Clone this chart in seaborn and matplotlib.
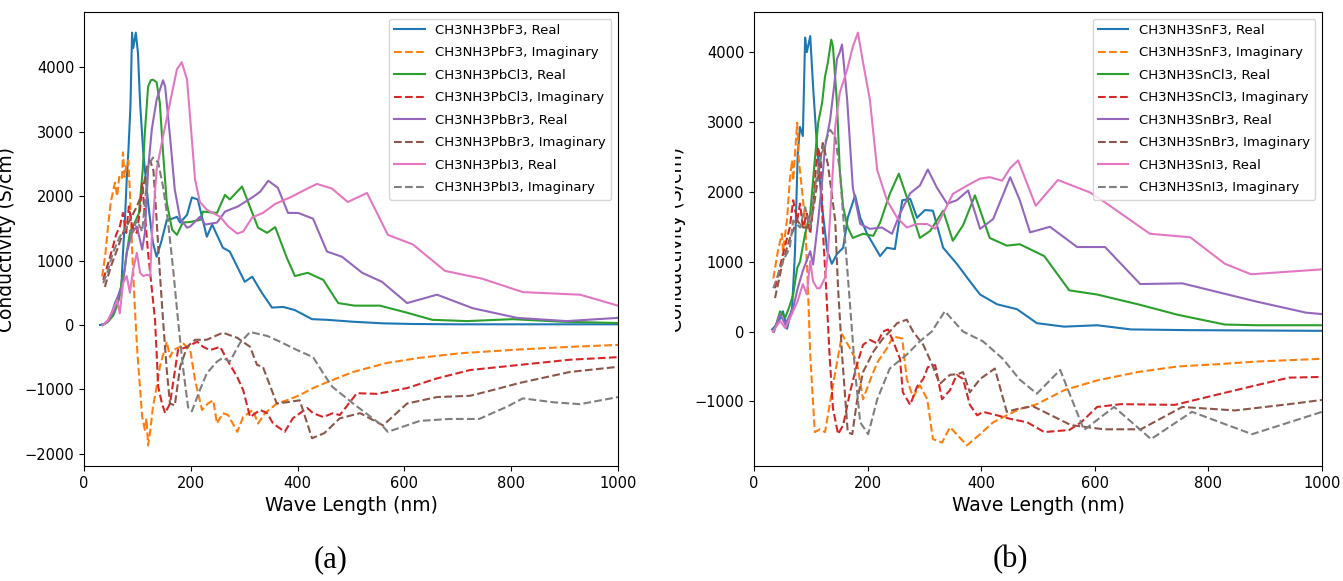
import matplotlib
matplotlib.use("Agg")
import matplotlib.pyplot as plt
from matplotlib.transforms import Bbox, TransformedBbox
import seaborn as sns

# ---------------- (a) CH3NH3PbX3 ----------------
pbf3_re_wl = [30, 40, 49, 58, 64, 70, 73, 77, 80, 83, 87, 90, 92, 94, 97, 101, 105, 111, 120, 129, 136, 145, 155, 165, 174, 180, 193, 202, 213, 230, 240, 260, 273, 301, 315, 333, 352, 373, 395, 427, 455, 504, 560, 616, 700, 800, 900, 1000]
pbf3_re = [0, 20, 100, 340, 450, 600, 1120, 1700, 2260, 2680, 3400, 4540, 4300, 4390, 4540, 4230, 3450, 2680, 1900, 1280, 1060, 1300, 1630, 1650, 1680, 1590, 1710, 1980, 1950, 1370, 1560, 1200, 1140, 670, 750, 500, 270, 280, 230, 90, 80, 50, 25, 15, 10, 10, 10, 10]

pbf3_im_wl = [34, 40, 45, 50, 55, 58, 62, 66, 71, 73, 76, 79, 83, 86, 90, 95, 100, 109, 114, 117, 120, 124, 129, 136, 142, 155, 161, 167, 180, 185, 199, 208, 221, 232, 242, 249, 260, 270, 287, 298, 316, 326, 339, 361, 380, 404, 429, 455, 479, 504, 567, 629, 704, 816, 910, 1000]
pbf3_im = [750, 1100, 1530, 1900, 2100, 2210, 2000, 2300, 2260, 2680, 2300, 2460, 2560, 2050, 1200, 300, -440, -1430, -1630, -1450, -1870, -1650, -1280, -960, -650, -260, -500, -390, -340, -280, -390, -860, -1320, -1220, -1170, -1530, -1370, -1400, -1660, -1430, -1320, -1530, -1370, -1220, -1170, -1090, -980, -890, -810, -730, -590, -510, -440, -380, -340, -310]

pbcl3_re_wl = [35, 45, 55, 62, 67, 71, 76, 80, 86, 95, 103, 110, 114, 120, 125, 129, 136, 142, 148, 155, 165, 174, 185, 199, 217, 223, 249, 264, 273, 296, 326, 343, 358, 380, 395, 419, 448, 476, 507, 554, 605, 652, 717, 803, 897, 1000]
pbcl3_re = [0, 50, 150, 300, 450, 700, 850, 1120, 1430, 1590, 1740, 2410, 2990, 3700, 3800, 3810, 3770, 3450, 2680, 1900, 1480, 1400, 1590, 1600, 1630, 1760, 1740, 2020, 1950, 2150, 1510, 1430, 1520, 1040, 760, 810, 700, 340, 300, 300, 190, 80, 60, 90, 50, 30]

pbcl3_im_wl = [36, 45, 54, 60, 67, 73, 79, 84, 90, 99, 105, 109, 112, 120, 133, 139, 146, 152, 161, 176, 193, 212, 223, 236, 255, 268, 287, 298, 311, 330, 343, 354, 376, 391, 418, 429, 448, 466, 479, 511, 549, 605, 661, 723, 816, 910, 1000]
pbcl3_im = [700, 950, 1210, 1400, 1530, 1740, 1430, 1840, 1530, 1430, 1800, 2210, 1900, 1120, 80, -960, -1220, -1370, -1220, -390, -340, -260, -340, -390, -340, -540, -810, -1010, -1430, -1320, -1370, -1530, -1660, -1450, -1290, -1370, -1430, -1370, -1400, -1060, -1070, -980, -830, -700, -620, -540, -500]

pbbr3_re_wl = [35, 45, 55, 62, 67, 73, 80, 90, 99, 109, 114, 120, 127, 136, 148, 152, 161, 170, 180, 193, 199, 217, 227, 249, 264, 288, 315, 330, 345, 363, 382, 401, 429, 455, 483, 521, 558, 605, 661, 728, 811, 904, 1000]
pbbr3_re = [0, 60, 200, 400, 500, 650, 1120, 1430, 1530, 1170, 1430, 2410, 3040, 3500, 3800, 3700, 2930, 2100, 1650, 1510, 1530, 1680, 1560, 1590, 1760, 1840, 1980, 2070, 2240, 2130, 1740, 1740, 1650, 1140, 1060, 810, 670, 340, 470, 260, 110, 60, 110]

pbbr3_im_wl = [39, 50, 62, 73, 86, 99, 109, 118, 124, 130, 136, 142, 148, 155, 161, 170, 180, 193, 208, 230, 249, 260, 287, 311, 324, 335, 361, 380, 404, 427, 450, 479, 517, 560, 605, 661, 723, 766, 816, 910, 1000]
pbbr3_im = [590, 900, 1170, 1430, 1630, 1840, 2050, 2460, 2550, 2400, 1630, 810, 80, -700, -1220, -1250, -650, -340, -230, -230, -160, -120, -200, -340, -620, -650, -1220, -1200, -1170, -1760, -1680, -1450, -1370, -1560, -1220, -1120, -1100, -1010, -900, -730, -650]

pbi3_re_wl = [36, 45, 54, 62, 67, 73, 80, 86, 92, 99, 105, 111, 118, 124, 127, 136, 148, 161, 174, 183, 193, 199, 208, 217, 230, 255, 270, 287, 298, 315, 335, 358, 386, 414, 436, 464, 494, 530, 569, 616, 676, 745, 822, 929, 1000]
pbi3_re = [0, 80, 230, 390, 180, 650, 760, 500, 860, 1120, 810, 760, 780, 760, 1370, 2410, 2930, 3450, 3970, 4080, 3810, 3190, 2260, 1910, 1790, 1680, 1530, 1420, 1450, 1670, 1740, 1880, 1980, 2100, 2190, 2120, 1910, 2050, 1400, 1250, 840, 720, 510, 470, 300]

pbi3_im_wl = [36, 45, 54, 67, 80, 90, 99, 109, 114, 120, 129, 139, 148, 157, 167, 176, 186, 195, 202, 217, 230, 249, 260, 273, 292, 311, 343, 367, 399, 429, 448, 465, 504, 558, 569, 629, 685, 740, 792, 822, 878, 929, 1000]
pbi3_im = [650, 850, 1120, 1370, 1530, 1430, 1630, 1450, 1900, 2460, 2600, 2520, 2150, 1630, 860, 80, -700, -1280, -1340, -1010, -750, -570, -510, -570, -280, -110, -170, -260, -390, -500, -750, -960, -1220, -1560, -1660, -1490, -1460, -1460, -1270, -1140, -1200, -1230, -1120]

# ---------------- (b) CH3NH3SnX3 ----------------
snf3_re_wl = [32, 42, 51, 58, 67, 72, 77, 81, 86, 90, 93, 99, 104, 111, 120, 129, 137, 146, 157, 165, 178, 187, 199, 222, 234, 248, 261, 275, 287, 301, 315, 333, 357, 380, 398, 428, 463, 498, 546, 604, 664, 764, 1000]
snf3_re = [30, 120, 290, 40, 330, 1110, 2550, 2930, 2800, 4210, 4000, 4230, 3510, 2640, 1780, 1150, 970, 1110, 1200, 1630, 1950, 1630, 1400, 1080, 1200, 1180, 1880, 1900, 1630, 1740, 1730, 1200, 970, 720, 530, 390, 320, 120, 70, 90, 30, 20, 10]

snf3_im_wl = [34, 42, 49, 51, 58, 63, 67, 69, 76, 79, 84, 90, 95, 99, 107, 116, 125, 139, 155, 169, 181, 192, 208, 218, 234, 245, 261, 269, 280, 292, 305, 315, 331, 345, 359, 375, 398, 421, 445, 468, 498, 546, 604, 676, 746, 812, 884, 942, 1000]
snf3_im = [760, 1150, 1400, 1150, 1590, 2160, 2450, 2160, 2990, 2450, 2060, 1590, 620, -330, -1440, -1400, -1440, -770, -40, -240, -430, -970, -620, -430, -240, -70, -100, -680, -940, -770, -970, -1540, -1590, -1370, -1490, -1630, -1470, -1300, -1200, -1110, -1040, -840, -700, -580, -500, -470, -430, -410, -390]

sncl3_re_wl = [35, 46, 55, 62, 69, 76, 81, 90, 99, 107, 113, 120, 125, 130, 136, 139, 146, 151, 157, 165, 174, 192, 210, 222, 239, 255, 275, 292, 310, 333, 350, 368, 389, 415, 445, 468, 511, 555, 604, 676, 746, 829, 884, 1000]
sncl3_re = [0, 290, 200, 350, 530, 910, 1000, 1400, 1690, 2450, 2990, 3280, 3650, 3850, 4180, 4080, 3280, 2310, 1780, 1490, 1340, 1400, 1370, 1560, 1970, 2260, 1780, 1340, 1440, 1730, 1300, 1520, 1950, 1340, 1230, 1250, 1080, 590, 530, 390, 240, 100, 90, 90]

sncl3_im_wl = [37, 51, 63, 69, 76, 81, 86, 93, 99, 104, 109, 113, 118, 121, 127, 133, 139, 148, 157, 169, 181, 192, 204, 217, 227, 236, 245, 257, 262, 275, 287, 298, 306, 319, 331, 345, 357, 368, 380, 393, 403, 428, 451, 481, 511, 555, 576, 604, 646, 741, 812, 884, 942, 1000]
sncl3_im = [620, 1110, 1490, 1880, 1590, 1830, 1490, 1690, 1400, 1780, 2350, 2640, 2400, 1490, 620, -330, -1100, -1470, -1340, -870, -480, -190, -120, -170, 0, 30, -140, -390, -870, -1050, -790, -680, -510, -480, -970, -840, -620, -680, -1050, -1200, -1150, -1200, -1250, -1300, -1440, -1410, -1300, -1080, -1040, -1050, -910, -770, -660, -650]

snbr3_re_wl = [35, 46, 55, 69, 77, 86, 99, 104, 113, 120, 125, 134, 141, 146, 151, 155, 164, 174, 187, 204, 225, 243, 257, 275, 292, 306, 322, 340, 357, 377, 398, 421, 451, 468, 486, 521, 569, 618, 680, 754, 824, 884, 972, 1000]
snbr3_re = [0, 250, 100, 340, 620, 870, 1150, 960, 1590, 2160, 2640, 3030, 3510, 3900, 4000, 4110, 3320, 2060, 1540, 1470, 1490, 1400, 1690, 1980, 2090, 2320, 2060, 1830, 1880, 2020, 1470, 1610, 2210, 1880, 1420, 1500, 1210, 1210, 680, 690, 550, 430, 270, 250]

snbr3_im_wl = [37, 51, 63, 76, 86, 99, 107, 116, 121, 130, 143, 148, 155, 165, 173, 181, 192, 210, 227, 239, 252, 269, 280, 298, 313, 327, 345, 359, 368, 380, 398, 424, 445, 463, 491, 558, 616, 681, 754, 847, 942, 1000]
snbr3_im = [480, 1010, 1330, 1590, 1490, 1490, 1880, 2400, 2700, 2400, 1590, 620, -330, -1440, -1470, -1010, -580, -290, -100, 0, 120, 170, 0, -190, -460, -750, -620, -610, -580, -870, -680, -530, -1150, -1110, -1070, -1340, -1400, -1400, -1080, -1130, -1040, -980]

sni3_re_wl = [33, 46, 55, 69, 77, 86, 93, 99, 104, 111, 116, 125, 130, 137, 143, 151, 164, 174, 183, 192, 204, 217, 234, 252, 269, 287, 305, 319, 333, 350, 375, 398, 415, 437, 451, 465, 496, 535, 592, 609, 697, 768, 829, 875, 1000]
sni3_re = [0, 150, 50, 290, 440, 680, 530, 1010, 720, 620, 620, 770, 1110, 2060, 2930, 3420, 3750, 4080, 4280, 3850, 3320, 2310, 1880, 1630, 1490, 1540, 1540, 1470, 1690, 1970, 2090, 2190, 2210, 2160, 2340, 2450, 1800, 2170, 1990, 1900, 1400, 1350, 970, 820, 890]

sni3_im_wl = [34, 51, 63, 69, 81, 90, 99, 107, 116, 125, 134, 143, 151, 160, 169, 178, 187, 201, 217, 239, 269, 292, 313, 336, 368, 403, 438, 468, 498, 539, 581, 634, 699, 771, 877, 1000]
sni3_im = [620, 1010, 1200, 1590, 1490, 1780, 1490, 2060, 2450, 2700, 2890, 2790, 2310, 1340, 390, -580, -1300, -1470, -970, -530, -330, -140, 0, 290, 0, -140, -390, -690, -890, -550, -1410, -1080, -1540, -1150, -1470, -1150]

pb_names = ["CH3NH3PbF3", "CH3NH3PbCl3", "CH3NH3PbBr3", "CH3NH3PbI3"]
sn_names = ["CH3NH3SnF3", "CH3NH3SnCl3", "CH3NH3SnBr3", "CH3NH3SnI3"]
parts = ["Real", "Imaginary"]
x_label = "Wave Length (nm)"
y_label = "Conductivity (S/cm)"
x_ticks = [0, 200, 400, 600, 800, 1000]
captions = ["(a)", "(b)"]

pb_series = [(pbf3_re_wl, pbf3_re), (pbf3_im_wl, pbf3_im),
             (pbcl3_re_wl, pbcl3_re), (pbcl3_im_wl, pbcl3_im),
             (pbbr3_re_wl, pbbr3_re), (pbbr3_im_wl, pbbr3_im),
             (pbi3_re_wl, pbi3_re), (pbi3_im_wl, pbi3_im)]
sn_series = [(snf3_re_wl, snf3_re), (snf3_im_wl, snf3_im),
             (sncl3_re_wl, sncl3_re), (sncl3_im_wl, sncl3_im),
             (snbr3_re_wl, snbr3_re), (snbr3_im_wl, snbr3_im),
             (sni3_re_wl, sni3_re), (sni3_im_wl, sni3_im)]

W, H = 1343, 581
fig = plt.figure(figsize=(W / 100, H / 100), dpi=100)
palette = sns.color_palette("tab10", 8)

# axes rectangles in pixels: left, right, top, bottom
panels = [
    (84, 618, 12, 466, pb_names, pb_series),
    (754, 1322, 12, 466, sn_names, sn_series),
]

axes = []
for left, right, top, bottom, names, series in panels:
    ax = fig.add_axes([left / W, 1 - bottom / H, (right - left) / W, (bottom - top) / H])
    for i, (wl, val) in enumerate(series):
        label = f"{names[i // 2]}, {parts[i % 2]}"
        sns.lineplot(x=wl, y=val, ax=ax, color=palette[i],
                     linestyle="-" if i % 2 == 0 else "--",
                     linewidth=1.5, label=label, estimator=None, sort=False,
                     legend=False)
    ax.set_xlim(0, 1000)
    ax.set_xticks(x_ticks)
    ax.tick_params(labelsize=10.5)
    ax.set_xlabel(x_label, fontsize=13.5)
    ax.set_ylabel(y_label, fontsize=13.5)
    ax.yaxis.set_label_coords(-68 / (right - left), 0.5)
    ax.legend(loc="upper right", fontsize=9.5, labelspacing=0.72,
              handlelength=2.3, framealpha=0.8)
    axes.append(ax)

# the y label of the right panel is partly hidden behind the gap between panels
ylab_b = axes[1].yaxis.label
ylab_b.set_clip_box(TransformedBbox(Bbox([[675 / W, 0], [1, 1]]), fig.transFigure))
ylab_b.set_clip_on(True)

fig.text(331 / W, 1 - 560 / H, captions[0], ha="center", va="center",
         family="Liberation Serif", fontsize=22)
fig.text(1010 / W, 1 - 560 / H, captions[1], ha="center", va="center",
         family="Liberation Serif", fontsize=22)

fig.savefig("out.png", dpi=100)
